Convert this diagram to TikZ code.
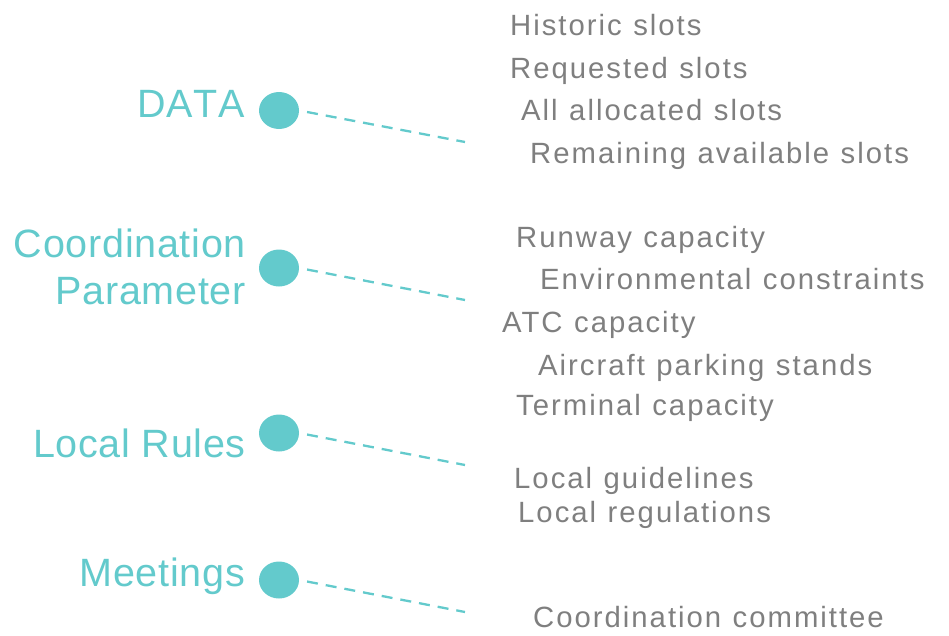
\documentclass[tikz,border=0pt]{standalone}
\usepackage{fontspec}
\setmainfont{Liberation Sans}
\newfontfamily\rfont[LetterSpace=6.8]{Liberation Sans}
\newfontfamily\lfont[LetterSpace=1.8,Kerning=Off]{Liberation Sans}
\newcommand\itemfont{\rfont\fontsize{29.3pt}{35pt}\selectfont\spaceskip 11.5pt\relax}
\usetikzlibrary{shapes.geometric}
\definecolor{teal1}{HTML}{63CACC}
\definecolor{gray1}{HTML}{7F7F7F}
\tikzset{
  dot/.style={ellipse, fill=teal1, draw=none, minimum width=40pt, minimum height=37pt, inner sep=0pt},
  cat/.style={inner sep=0pt, text=teal1, font=\lfont\fontsize{39.5pt}{47pt}\selectfont},
  item/.style={inner sep=0pt, anchor=base west, text=gray1, font=\itemfont},
  link/.style={draw=teal1, line width=2.3pt, dash pattern=on 11pt off 8pt, shorten <=8pt}
}
\begin{document}
\begin{tikzpicture}[x=1pt, y=-1pt]
\useasboundingbox (0,0) rectangle (949,635);
% circles
\node[dot] (c1) at (279,110.5) {};
\node[dot] (c2) at (279,268) {};
\node[dot] (c3) at (279,433) {};
\node[dot] (c4) at (279,580) {};
% categories
\node[cat, anchor=base east] (t1) at (245,117) {DATA};
\node[cat, anchor=north east, align=right] (t2) at (246,229) {Coordination\\Parameter};
\node[cat, anchor=base east] (t3) at (246,457) {Local Rules};
\node[cat, anchor=base east] (t4) at (245,586) {Meetings};
% connector ends
\coordinate (e1) at (465,142);
\coordinate (e2) at (465,300);
\coordinate (e3) at (465,465);
\coordinate (e4) at (465,612);
\draw[link] (c1.east) -- (e1);
\draw[link] (c2.east) -- (e2);
\draw[link] (c3.east) -- (e3);
\draw[link] (c4.east) -- (e4);
% items
\node[item] (i1) at (510,35) {Historic slots};
\node[item] (i2) at (510,78) {Requested slots};
\node[item] (i3) at (521,120) {All allocated slots};
\node[item] (i4) at (530,163) {Remaining available slots};
\node[item] (i5) at (516,247) {Runway capacity};
\node[item] (i6) at (540,289) {Environmental constraints};
\node[item] (i7) at (502,332) {ATC capacity};
\node[item] (i8) at (538,375) {Aircraft parking stands};
\node[item] (i9) at (516,415) {Terminal capacity};
\node[item] (i10) at (514,488) {Local guidelines};
\node[item] (i11) at (518,522) {Local regulations};
\node[item] (i12) at (533,627) {Coordination committee};
\end{tikzpicture}
\end{document}
